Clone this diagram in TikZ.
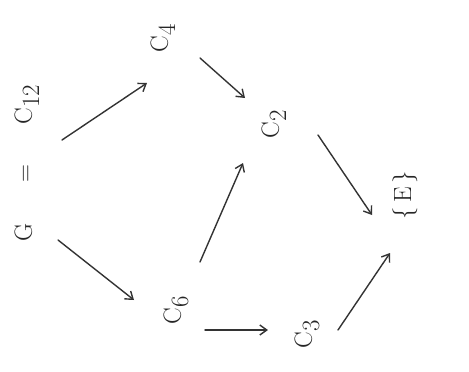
\documentclass[tikz,border=0pt]{standalone}
\usetikzlibrary{arrows.meta}
\begin{document}
\begin{tikzpicture}[x=1pt,y=-1pt,
  lbl/.style={rotate=90,inner sep=1pt,text=black!85,font=\fontsize{34}{34}\selectfont},
  arr/.style={-{Straight Barb[length=7pt,width=10pt]},line width=1.4pt,draw=black!80,line cap=round}]
\useasboundingbox (0,0) rectangle (469,372);
\node[lbl] (G) at (27,163) {$\mathrm{G}\quad=\quad\mathrm{C}_{12}$};
\node[lbl] (c4) at (163,38) {$\mathrm{C}_4$};
\node[lbl] (c2) at (274,124) {$\mathrm{C}_2$};
\node[lbl] (c6) at (176,310) {$\mathrm{C}_6$};
\node[lbl] (c3) at (307,334) {$\mathrm{C}_3$};
\node[lbl,font=\fontsize{44}{44}\selectfont] (e) at (405,195) {$\{\,\mathrm{E}\,\}$};
\coordinate (g1) at (62,140);   \coordinate (g1e) at (147,83);
\coordinate (g2) at (58,240);   \coordinate (g2e) at (134,300);
\coordinate (c4s) at (200,58);  \coordinate (c2a) at (245,98);
\coordinate (c6s) at (200,262); \coordinate (c2b) at (243,163);
\coordinate (c2s) at (318,135); \coordinate (ea) at (372,215);
\coordinate (c6t) at (205,330); \coordinate (c3a) at (268,330);
\coordinate (c3s) at (338,330); \coordinate (eb) at (390,253);
\draw[arr] (g1) -- (g1e);
\draw[arr] (g2) -- (g2e);
\draw[arr] (c4s) -- (c2a);
\draw[arr] (c6s) -- (c2b);
\draw[arr] (c2s) -- (ea);
\draw[arr] (c6t) -- (c3a);
\draw[arr] (c3s) -- (eb);
\end{tikzpicture}
\end{document}
